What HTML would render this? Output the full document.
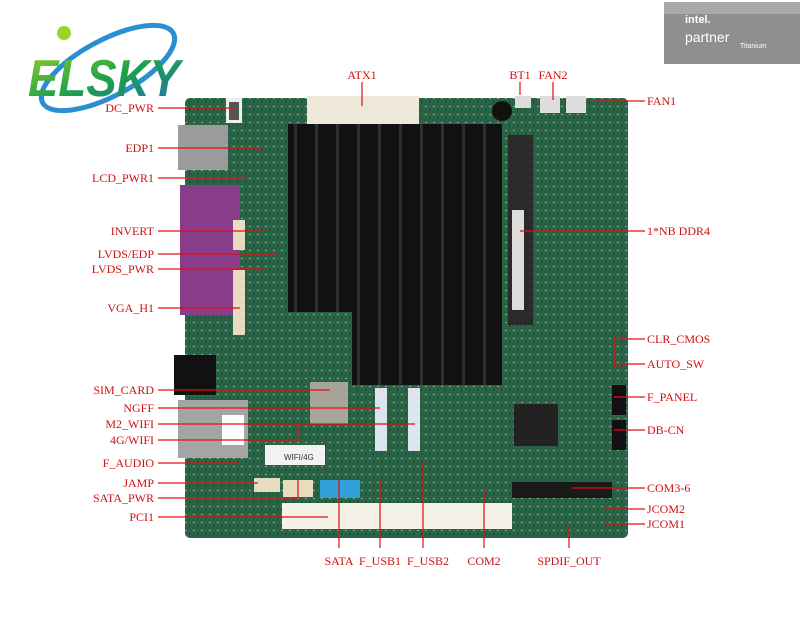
<!DOCTYPE html>
<html><head><meta charset="utf-8"><style>
html,body{margin:0;padding:0;background:#fff;width:800px;height:641px;overflow:hidden}
</style></head><body>
<svg width="800" height="641" viewBox="0 0 800 641" xmlns="http://www.w3.org/2000/svg">
<defs>
<linearGradient id="lg" x1="0" y1="0" x2="1" y2="1"><stop offset="0" stop-color="#8fd12a"/><stop offset="0.5" stop-color="#1fa04a"/><stop offset="1" stop-color="#1d6fc0"/></linearGradient>
<pattern id="fin" width="21" height="10" patternUnits="userSpaceOnUse"><rect width="21" height="10" fill="#111113"/><rect x="0" width="3" height="10" fill="#2e2e32"/></pattern>
<pattern id="pcb" width="8" height="8" patternUnits="userSpaceOnUse"><rect width="8" height="8" fill="#2a6446"/><rect x="1" y="2" width="2" height="1" fill="#8aa898"/><rect x="5" y="5" width="1" height="2" fill="#1e3a2c"/></pattern>
</defs>
<ellipse cx="108" cy="68" rx="74" ry="28" fill="none" stroke="#2a8fd0" stroke-width="5" transform="rotate(-28 108 68)"/>
<circle cx="64" cy="33" r="7" fill="#9ed32a"/>
<text x="28" y="96" font-family="Liberation Sans,sans-serif" font-weight="bold" font-style="italic" font-size="52" fill="url(#lg)" textLength="152" lengthAdjust="spacingAndGlyphs">ELSKY</text>
<rect x="664" y="2" width="136" height="62" fill="#8f8f8f"/>
<rect x="664" y="2" width="136" height="12" fill="#a8a8a8"/>
<text x="685" y="23" font-family="Liberation Sans,sans-serif" font-size="11" fill="#fff" font-weight="bold">intel.</text>
<text x="685" y="42" font-family="Liberation Sans,sans-serif" font-size="14" fill="#fff">partner</text>
<text x="740" y="48" font-family="Liberation Sans,sans-serif" font-size="7" fill="#fff">Titanium</text>
<rect x="185" y="98" width="443" height="440" rx="5" fill="url(#pcb)"/>
<rect x="178" y="125" width="50" height="45" fill="#9c9c9c"/>
<rect x="180" y="185" width="60" height="130" fill="#8a3d8a"/>
<rect x="174" y="355" width="42" height="40" fill="#111"/>
<rect x="178" y="400" width="70" height="58" fill="#a5a5a5"/>
<rect x="222" y="415" width="22" height="30" fill="#fff"/>
<rect x="226" y="98" width="16" height="25" fill="#eee"/>
<rect x="229" y="102" width="10" height="18" fill="#555"/>
<rect x="307" y="96" width="112" height="29" fill="#ede8d8"/>
<rect x="515" y="96" width="16" height="12" fill="#ddd"/>
<rect x="540" y="96" width="20" height="17" fill="#ddd"/>
<rect x="566" y="96" width="20" height="17" fill="#ddd"/>
<circle cx="502" cy="111" r="10" fill="#111"/>
<path d="M288 124 H502 V385 H352 V312 H288 Z" fill="url(#fin)"/>
<rect x="508" y="135" width="25" height="190" fill="#2a2a2a"/>
<rect x="512" y="210" width="12" height="100" fill="#ddd"/>
<rect x="233" y="220" width="12" height="30" fill="#e8dcc0"/>
<rect x="233" y="270" width="12" height="65" fill="#e8dcc0"/>
<rect x="310" y="382" width="38" height="42" fill="#a9a49a"/>
<rect x="375" y="388" width="12" height="63" fill="#dde4f0"/>
<rect x="408" y="388" width="12" height="63" fill="#dde4f0"/>
<rect x="265" y="445" width="60" height="20" fill="#f2f2f2"/>
<text x="284" y="460" font-family="Liberation Sans,sans-serif" font-size="8" fill="#333">WIFI/4G</text>
<rect x="320" y="480" width="40" height="18" fill="#2fa0d8"/>
<rect x="254" y="478" width="26" height="14" fill="#e8dcc0"/>
<rect x="283" y="480" width="30" height="17" fill="#e8dcc0"/>
<rect x="282" y="503" width="230" height="26" fill="#f4f1e6"/>
<rect x="514" y="404" width="44" height="42" fill="#222"/>
<rect x="512" y="482" width="100" height="16" fill="#1a1a1a"/>
<rect x="612" y="420" width="14" height="30" fill="#111"/>
<rect x="612" y="385" width="14" height="30" fill="#111"/>
<g stroke="#e01010" stroke-width="1.2" fill="none">
<path d="M158 108H235M158 148H263M158 178H246M158 231H265M158 254H278M158 269H265M158 308H240M158 390H330M158 408H380M158 424H415M158 440H298V425M158 463H240M158 483H258M158 498H298V480M158 517H328"/>
<path d="M339 548V480M380 548V480M423 548V462M484 548V490M569 548V525"/>
<path d="M362 82V106M520 82V95M553 82V100M596 101H645M520 231H645M614 339H645M614 339V368M614 364H645M614 397H645M614 430H645M572 488H645M604 509H645M604 524H645"/>
</g>
<g font-family="Liberation Serif,serif" font-size="12" fill="#d01010" text-anchor="end">
<text x="154" y="112">DC_PWR</text><text x="154" y="152">EDP1</text><text x="154" y="182">LCD_PWR1</text>
<text x="154" y="235">INVERT</text><text x="154" y="258">LVDS/EDP</text><text x="154" y="273">LVDS_PWR</text>
<text x="154" y="312">VGA_H1</text><text x="154" y="394">SIM_CARD</text><text x="154" y="412">NGFF</text>
<text x="154" y="428">M2_WIFI</text><text x="154" y="444">4G/WIFI</text><text x="154" y="467">F_AUDIO</text>
<text x="154" y="487">JAMP</text><text x="154" y="502">SATA_PWR</text><text x="154" y="521">PCI1</text>
</g>
<g font-family="Liberation Serif,serif" font-size="12" fill="#d01010" text-anchor="middle">
<text x="362" y="79">ATX1</text><text x="520" y="79">BT1</text><text x="553" y="79">FAN2</text>
<text x="339" y="565">SATA</text><text x="380" y="565">F_USB1</text><text x="428" y="565">F_USB2</text>
<text x="484" y="565">COM2</text><text x="569" y="565">SPDIF_OUT</text>
</g>
<g font-family="Liberation Serif,serif" font-size="12" fill="#d01010">
<text x="647" y="105">FAN1</text><text x="647" y="235">1*NB DDR4</text><text x="647" y="343">CLR_CMOS</text>
<text x="647" y="368">AUTO_SW</text><text x="647" y="401">F_PANEL</text><text x="647" y="434">DB-CN</text>
<text x="647" y="492">COM3-6</text><text x="647" y="513">JCOM2</text><text x="647" y="528">JCOM1</text>
</g>
</svg>
</body></html>
